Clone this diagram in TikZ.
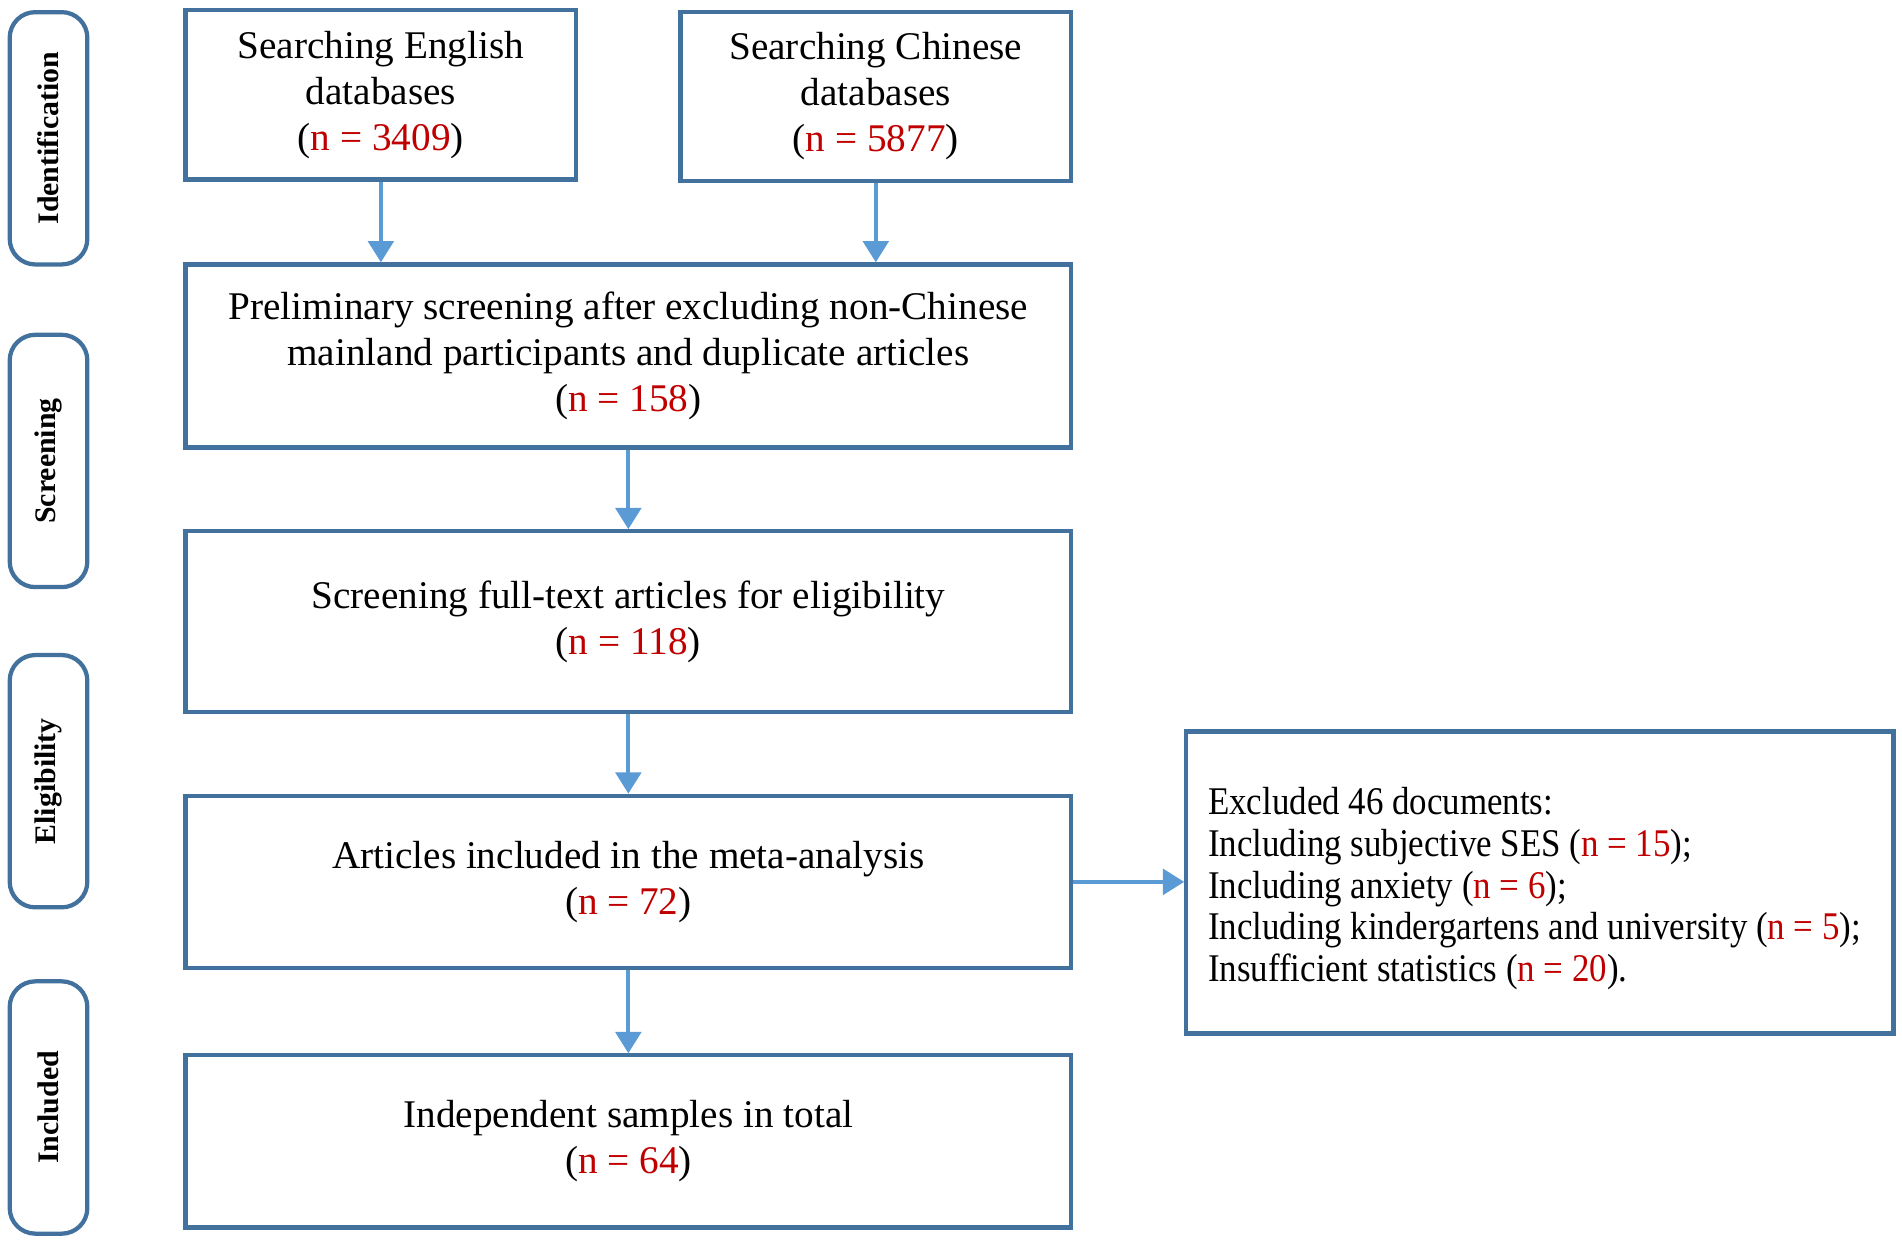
\documentclass[tikz,border=0pt]{standalone}
\usepackage{fontspec}
\setmainfont{Liberation Serif}
\usepackage{graphicx}
\usepackage{xcolor}
\usepackage{tikz}
\usetikzlibrary{arrows.meta, positioning, calc}
\definecolor{boxblue}{HTML}{41719C}
\definecolor{arrowblue}{HTML}{5B9BD5}
\definecolor{countred}{HTML}{C00000}
\newcommand{\cnt}[1]{(\textcolor{countred}{n = #1})}

\begin{document}
\begin{tikzpicture}[font=\fontsize{9.2}{10.8}\selectfont, >={Triangle[width=6pt,length=5pt]}]
    \tikzstyle{stage} = [rectangle, rounded corners=6pt, draw=boxblue, line width=1pt,
      minimum width=0.64cm, minimum height=2.08cm, inner sep=0pt]
    \tikzstyle{stagetext} = [rotate=90, font=\fontsize{7}{8}\selectfont\bfseries]
    \tikzstyle{flow} = [rectangle, draw=boxblue, line width=1pt, align=center,
      minimum height=1.42cm, inner sep=2pt]
    \tikzstyle{link} = [->, draw=arrowblue, line width=0.9pt]

    \useasboundingbox (0,0) rectangle (15.68,-10.24);

    % Stage labels on the left
    \node (identification) [stage] at (0.40,-1.14) {};
    \node [stagetext] at (identification) {Identification};
    \node (screening)      [stage] at (0.40,-3.80) {};
    \node [stagetext] at (screening) {Screening};
    \node (eligibility)    [stage] at (0.40,-6.44) {};
    \node [stagetext] at (eligibility) {Eligibility};
    \node (included)       [stage] at (0.40,-9.13) {};
    \node [stagetext] at (included) {Included};

    % Flow boxes
    \node (english) [flow, minimum width=3.22cm, minimum height=1.40cm] at (3.14,-0.78)
      {Searching English\\databases\\\cnt{3409}};
    \node (chinese) [flow, minimum width=3.22cm, minimum height=1.39cm] at (7.22,-0.795)
      {Searching Chinese\\databases\\\cnt{5877}};
    \node (prelim)  [flow, minimum width=7.30cm, minimum height=1.51cm] at (5.18,-2.935)
      {Preliminary screening after excluding non-Chinese\\mainland participants and duplicate articles\\\cnt{158}};
    \node (fulltext) [flow, minimum width=7.30cm, minimum height=1.49cm] at (5.18,-5.125)
      {Screening full-text articles for eligibility\\\cnt{118}};
    \node (articles) [flow, minimum width=7.30cm] at (5.18,-7.27)
      {Articles included in the meta-analysis\\\cnt{72}};
    \node (samples)  [flow, minimum width=7.30cm] at (5.18,-9.41)
      {Independent samples in total\\\cnt{64}};
    \node (excluded) [flow, minimum width=5.83cm, minimum height=2.49cm] at (12.695,-7.275) {};
    \node [anchor=west, inner sep=0pt, yshift=-0.06cm] at ($(excluded.west)+(0.19,0)$)
      {\scalebox{0.89}[1]{\fontsize{9.2}{9.8}\selectfont\begin{tabular}{@{}l@{}}
       Excluded 46 documents:\\
       Including subjective SES \cnt{15};\\
       Including anxiety \cnt{6};\\
       Including kindergartens and university \cnt{5};\\
       Insufficient statistics \cnt{20}.
       \end{tabular}}};

    % Connectors
    \draw [link] (english.south) -- (english.south |- prelim.north);
    \draw [link] (chinese.south) -- (chinese.south |- prelim.north);
    \draw [link] (prelim.south) -- (fulltext.north);
    \draw [link] (fulltext.south) -- (articles.north);
    \draw [link] (articles.south) -- (samples.north);
    \draw [link] (articles.east) -- (excluded.west |- articles.east);
\end{tikzpicture}
\end{document}
